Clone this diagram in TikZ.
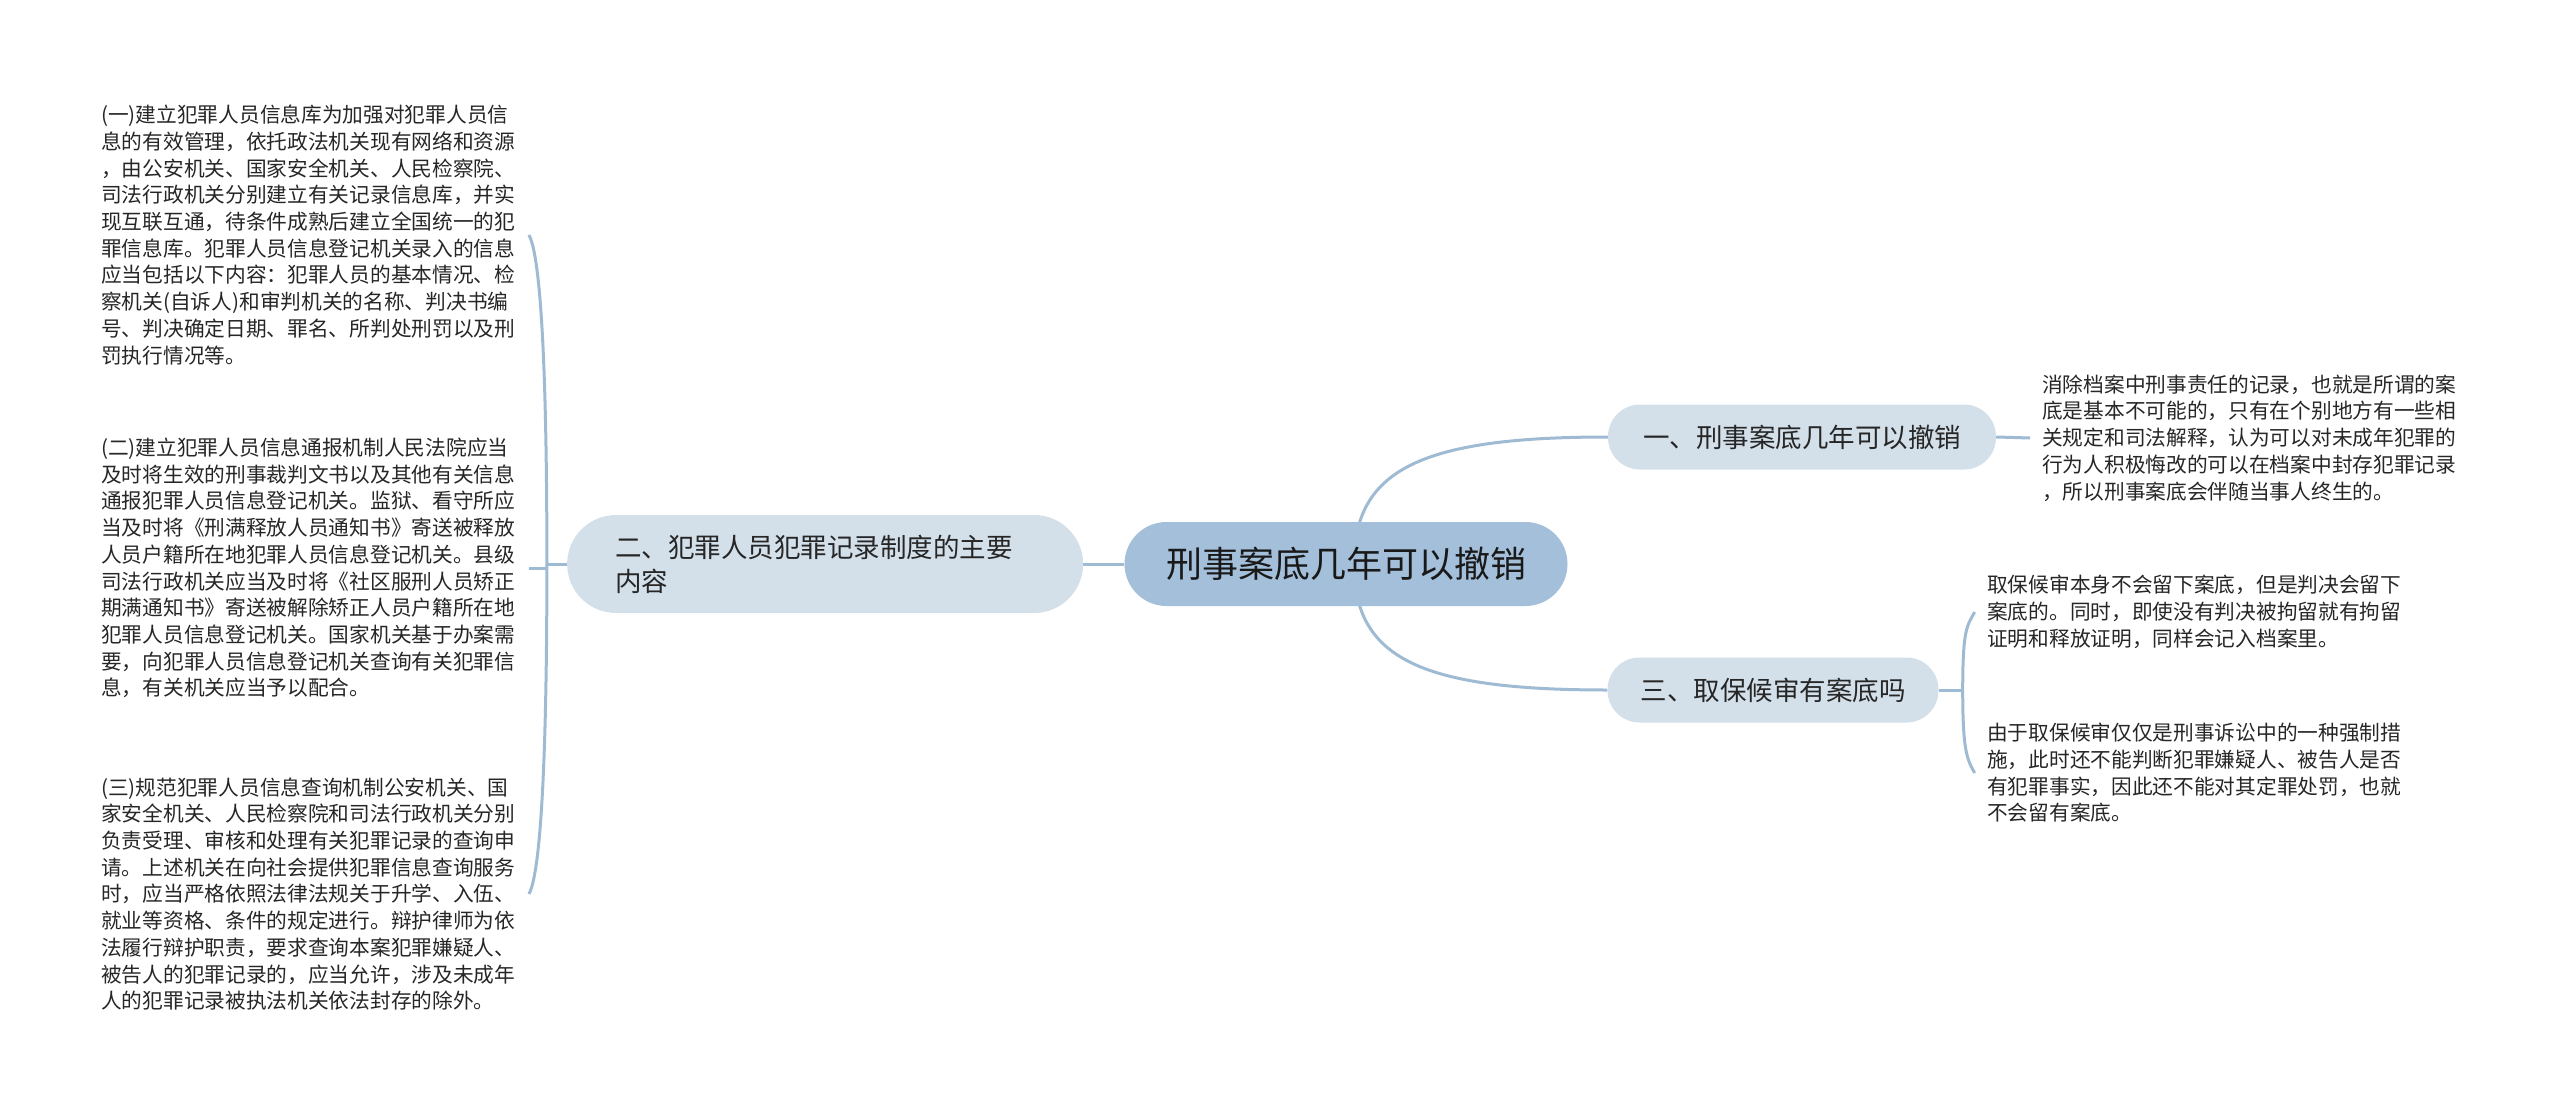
\documentclass[tikz,border=0pt]{standalone}
\usepackage{fontspec}
\setmainfont{Noto Sans CJK SC}
\usetikzlibrary{positioning, backgrounds}
\definecolor{linkblue}{HTML}{9FBAD3}
\definecolor{rootfill}{HTML}{A3BFDA}
\definecolor{topicfill}{HTML}{D3E0EA}

\begin{document}
\begin{tikzpicture}[x=1pt, y=-1pt, node distance=41pt,
    link/.style={draw=linkblue, line width=3pt},
    topic/.style={fill=topicfill, rounded corners=32pt, minimum height=65pt, inner xsep=33pt, text=black!85, font=\fontsize{26.5pt}{34pt}\selectfont},
    note/.style={anchor=west, inner sep=0pt, align=left, text=black!85, font=\fontsize{20.7pt}{26.7pt}\selectfont}]
\useasboundingbox (0,0) rectangle (2560,1113);

\node [fill=rootfill, rounded corners=42pt, minimum width=443pt, minimum height=84pt, text=black!90, font=\fontsize{36pt}{40pt}\selectfont] (root) at (1346,564) {刑事案底几年可以撤销};
\node [topic, left = 41pt of root, minimum height=98pt, rounded corners=49pt, text width=420pt, inner xsep=48pt, align=left] (records) {二、犯罪人员犯罪记录制度的主要\\内容};
\node [topic, minimum width=388pt] (years) at (1802,437) {一、刑事案底几年可以撤销};
\node [topic] (bail) at (1773,690) {三、取保候审有案底吗};

\node [note] (rec1) at (101,235) {(一)建立犯罪人员信息库为加强对犯罪人员信\\息的有效管理，依托政法机关现有网络和资源\\，由公安机关、国家安全机关、人民检察院、\\司法行政机关分别建立有关记录信息库，并实\\现互联互通，待条件成熟后建立全国统一的犯\\罪信息库。犯罪人员信息登记机关录入的信息\\应当包括以下内容：犯罪人员的基本情况、检\\察机关(自诉人)和审判机关的名称、判决书编\\号、判决确定日期、罪名、所判处刑罚以及刑\\罚执行情况等。};
\node [note] (rec2) at (101,568) {(二)建立犯罪人员信息通报机制人民法院应当\\及时将生效的刑事裁判文书以及其他有关信息\\通报犯罪人员信息登记机关。监狱、看守所应\\当及时将《刑满释放人员通知书》寄送被释放\\人员户籍所在地犯罪人员信息登记机关。县级\\司法行政机关应当及时将《社区服刑人员矫正\\期满通知书》寄送被解除矫正人员户籍所在地\\犯罪人员信息登记机关。国家机关基于办案需\\要，向犯罪人员信息登记机关查询有关犯罪信\\息，有关机关应当予以配合。};
\node [note] (rec3) at (101,894) {(三)规范犯罪人员信息查询机制公安机关、国\\家安全机关、人民检察院和司法行政机关分别\\负责受理、审核和处理有关犯罪记录的查询申\\请。上述机关在向社会提供犯罪信息查询服务\\时，应当严格依照法律法规关于升学、入伍、\\就业等资格、条件的规定进行。辩护律师为依\\法履行辩护职责，要求查询本案犯罪嫌疑人、\\被告人的犯罪记录的，应当允许，涉及未成年\\人的犯罪记录被执法机关依法封存的除外。};

\node [note] (years1) at (2042,438) {消除档案中刑事责任的记录，也就是所谓的案\\底是基本不可能的，只有在个别地方有一些相\\关规定和司法解释，认为可以对未成年犯罪的\\行为人积极悔改的可以在档案中封存犯罪记录\\，所以刑事案底会伴随当事人终生的。};
\node [note] (bail1) at (1987,612) {取保候审本身不会留下案底，但是判决会留下\\案底的。同时，即使没有判决被拘留就有拘留\\证明和释放证明，同样会记入档案里。};
\node [note] (bail2) at (1987,773) {由于取保候审仅仅是刑事诉讼中的一种强制措\\施，此时还不能判断犯罪嫌疑人、被告人是否\\有犯罪事实，因此还不能对其定罪处罚，也就\\不会留有案底。};

\coordinate (ljoin) at ([xshift=-20pt]records.west);
\coordinate (rjoin) at ([xshift=24pt]bail.east);

\begin{scope}[on background layer]
\draw [link] (root.west) -- (records.east);
\draw [link] ([xshift=8pt]root.center) .. controls +(0,-94) and +(-188,0) .. (years.west);
\draw [link] ([xshift=8pt]root.center) .. controls +(0,94) and +(-188,0) .. (bail.west);

\draw [link] (records.west) -- (ljoin);
\draw [link] (ljoin) .. controls +(0,-250) and +(8,14) .. ([xshift=-18pt]ljoin |- rec1.east);
\draw [link] (ljoin |- rec2.east) -- ([xshift=-18pt]ljoin |- rec2.east);
\draw [link] (ljoin) .. controls +(0,250) and +(8,-14) .. ([xshift=-18pt]ljoin |- rec3.east);

\draw [link] (years.east) -- ([xshift=-12pt]years1.west);

\draw [link] (bail.east) -- (rjoin);
\draw [link] (rjoin) .. controls +(0,-60) and +(-8,14) .. ([xshift=12pt]rjoin |- bail1.west);
\draw [link] (rjoin) .. controls +(0,60) and +(-8,-14) .. ([xshift=12pt]rjoin |- bail2.west);
\end{scope}
\end{tikzpicture}
\end{document}
